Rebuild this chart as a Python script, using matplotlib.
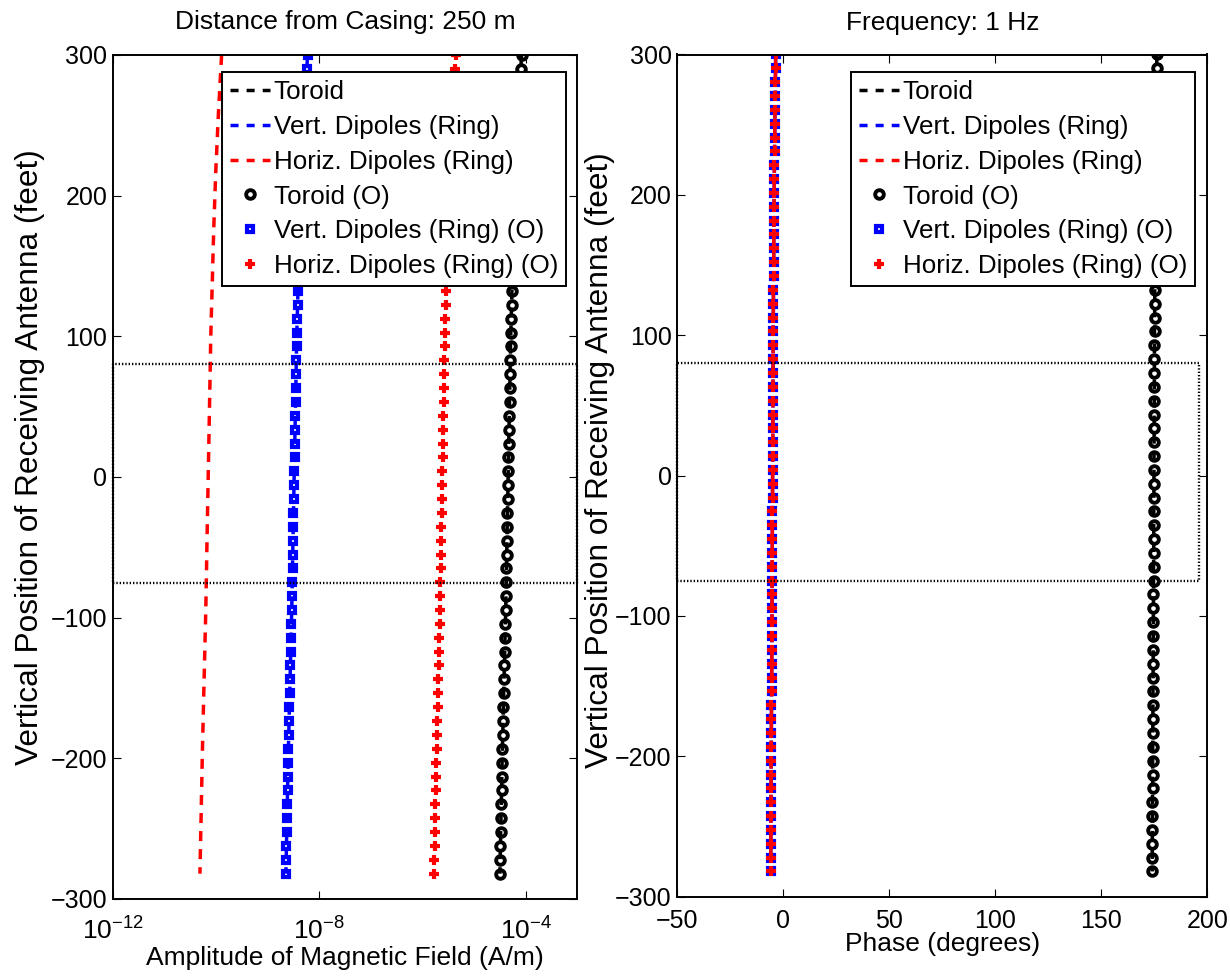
import numpy as np
import matplotlib
matplotlib.use('Agg')
import matplotlib.pyplot as plt
from matplotlib.lines import Line2D

plt.rcParams['font.family'] = ['Liberation Sans', 'DejaVu Sans']
plt.rcParams['mathtext.fontset'] = 'custom'
plt.rcParams['mathtext.rm'] = 'Liberation Sans'
plt.rcParams['mathtext.it'] = 'Liberation Sans:italic'
plt.rcParams['mathtext.default'] = 'regular'
plt.rcParams['lines.scale_dashes'] = False

# ---------------- data ----------------
depth_ft = [300.0, 290.1, 280.3, 270.4, 260.5, 250.7, 240.8, 231.0, 221.1, 211.2,
            201.4, 191.5, 181.6, 171.8, 161.9, 152.0, 142.2, 132.3, 122.4, 112.6,
            102.7, 92.9, 83.0, 73.1, 63.3, 53.4, 43.5, 33.7, 23.8, 13.9,
            4.1, -5.8, -15.7, -25.5, -35.4, -45.3, -55.1, -65.0, -74.9, -84.7,
            -94.6, -104.4, -114.3, -124.2, -134.0, -143.9, -153.8, -163.6, -173.5, -183.4,
            -193.2, -203.1, -213.0, -222.8, -232.7, -242.5, -252.4, -262.3, -272.1, -282.0]

# log10 of amplitude (A/m)
log_amp_toroid = [-4.080, -4.095, -4.110, -4.124, -4.139, -4.152, -4.164, -4.176, -4.189, -4.199,
                  -4.209, -4.218, -4.228, -4.236, -4.244, -4.251, -4.258, -4.266, -4.273, -4.281,
                  -4.288, -4.294, -4.298, -4.303, -4.308, -4.313, -4.318, -4.323, -4.328, -4.333,
                  -4.338, -4.343, -4.348, -4.353, -4.358, -4.363, -4.368, -4.372, -4.377, -4.382,
                  -4.387, -4.393, -4.400, -4.406, -4.413, -4.419, -4.426, -4.432, -4.438, -4.445,
                  -4.451, -4.457, -4.462, -4.468, -4.473, -4.478, -4.484, -4.489, -4.495, -4.500]
log_amp_vert = [-8.225, -8.240, -8.255, -8.269, -8.284, -8.297, -8.309, -8.321, -8.334, -8.344,
                -8.354, -8.363, -8.373, -8.381, -8.389, -8.396, -8.403, -8.411, -8.418, -8.426,
                -8.433, -8.439, -8.443, -8.448, -8.453, -8.458, -8.463, -8.468, -8.473, -8.478,
                -8.483, -8.488, -8.493, -8.498, -8.503, -8.508, -8.513, -8.517, -8.522, -8.527,
                -8.532, -8.538, -8.545, -8.551, -8.558, -8.564, -8.571, -8.577, -8.583, -8.590,
                -8.596, -8.602, -8.607, -8.613, -8.618, -8.623, -8.629, -8.634, -8.640, -8.645]
log_amp_horiz_O = [-5.355, -5.370, -5.385, -5.399, -5.414, -5.427, -5.439, -5.451, -5.464, -5.474,
                   -5.484, -5.493, -5.503, -5.511, -5.519, -5.526, -5.533, -5.541, -5.548, -5.556,
                   -5.563, -5.569, -5.573, -5.578, -5.583, -5.588, -5.593, -5.598, -5.603, -5.608,
                   -5.613, -5.618, -5.623, -5.628, -5.633, -5.638, -5.643, -5.647, -5.652, -5.657,
                   -5.662, -5.668, -5.675, -5.681, -5.688, -5.694, -5.701, -5.707, -5.713, -5.720,
                   -5.726, -5.732, -5.737, -5.743, -5.748, -5.753, -5.759, -5.764, -5.770, -5.775]
log_amp_horiz = [-9.890, -9.905, -9.920, -9.934, -9.949, -9.962, -9.974, -9.986, -9.999, -10.009,
                 -10.019, -10.028, -10.038, -10.046, -10.054, -10.061, -10.068, -10.076, -10.083, -10.091,
                 -10.098, -10.104, -10.108, -10.113, -10.118, -10.123, -10.128, -10.133, -10.138, -10.143,
                 -10.148, -10.153, -10.158, -10.163, -10.168, -10.173, -10.178, -10.182, -10.187, -10.192,
                 -10.197, -10.203, -10.210, -10.216, -10.223, -10.229, -10.236, -10.242, -10.248, -10.255,
                 -10.261, -10.267, -10.272, -10.278, -10.283, -10.288, -10.294, -10.299, -10.305, -10.310]

# phase (degrees)
phase_toroid = [176.20, 176.12, 176.04, 175.97, 175.89, 175.82, 175.76, 175.70, 175.63, 175.58,
                175.52, 175.48, 175.42, 175.38, 175.34, 175.30, 175.27, 175.23, 175.19, 175.15,
                175.11, 175.08, 175.06, 175.03, 175.01, 174.98, 174.95, 174.93, 174.90, 174.87,
                174.85, 174.82, 174.80, 174.77, 174.74, 174.72, 174.69, 174.67, 174.64, 174.62,
                174.59, 174.56, 174.52, 174.49, 174.46, 174.42, 174.39, 174.36, 174.32, 174.29,
                174.26, 174.23, 174.20, 174.17, 174.14, 174.12, 174.08, 174.06, 174.03, 174.00]
phase_vert = [-3.58, -3.66, -3.75, -3.83, -3.91, -3.99, -4.05, -4.12, -4.20, -4.25,
              -4.31, -4.36, -4.42, -4.46, -4.51, -4.54, -4.58, -4.63, -4.67, -4.71,
              -4.75, -4.79, -4.81, -4.84, -4.87, -4.89, -4.92, -4.95, -4.98, -5.01,
              -5.04, -5.06, -5.09, -5.12, -5.15, -5.18, -5.21, -5.23, -5.26, -5.28,
              -5.31, -5.35, -5.39, -5.42, -5.46, -5.49, -5.53, -5.57, -5.60, -5.64,
              -5.67, -5.71, -5.74, -5.77, -5.80, -5.83, -5.86, -5.89, -5.92, -5.95]
phase_horiz = [-3.58, -3.66, -3.75, -3.83, -3.91, -3.99, -4.05, -4.12, -4.20, -4.25,
               -4.31, -4.36, -4.42, -4.46, -4.51, -4.54, -4.58, -4.63, -4.67, -4.71,
               -4.75, -4.79, -4.81, -4.84, -4.87, -4.89, -4.92, -4.95, -4.98, -5.01,
               -5.04, -5.06, -5.09, -5.12, -5.15, -5.18, -5.21, -5.23, -5.26, -5.28,
               -5.31, -5.35, -5.39, -5.42, -5.46, -5.49, -5.53, -5.57, -5.60, -5.64,
               -5.67, -5.71, -5.74, -5.77, -5.80, -5.83, -5.86, -5.89, -5.92, -5.95]

legend_labels = ['Toroid', 'Vert. Dipoles (Ring)', 'Horiz. Dipoles (Ring)',
                 'Toroid (O)', 'Vert. Dipoles (Ring) (O)', 'Horiz. Dipoles (Ring) (O)']
box_depth = [-75, 80]

y_ticks = [-300, -200, -100, 0, 100, 200, 300]
amp_ticks = [1e-12, 1e-8, 1e-4]
amp_ticklabels = [r'$10^{-12}$', r'$10^{-8}$', r'$10^{-4}$']
phase_ticks = [-50, 0, 50, 100, 150, 200]

# ---------------- styles ----------------
FS = 19
LEG_FS = 18.7
DASH = (0, (7.2, 5.8))
LW = 2.5
circ = dict(marker='o', ms=6.2, mew=2.8, mfc='none', mec='k', ls='none')
sq = dict(marker='s', ms=4.6, mew=3.0, mfc='none', mec='b', ls='none')
plus = dict(marker='+', ms=7, mew=3.0, mec='r', ls='none')
BOXLS = (0, (1, 1.4))

W, H = 1230, 977
fig = plt.figure(figsize=(W / 100, H / 100), dpi=100)
ax1 = fig.add_axes([112.7 / W, (H - 899) / H, 464.6 / W, 844 / H])
ax2 = fig.add_axes([677.3 / W, (H - 896.7) / H, 530 / W, 842.2 / H])

d = np.array(depth_ft)

# left panel: amplitude
ax1.plot(10 ** np.array(log_amp_toroid), d, color='k', ls=DASH, lw=LW)
ax1.plot(10 ** np.array(log_amp_vert), d, color='b', ls=DASH, lw=LW)
ax1.plot(10 ** np.array(log_amp_horiz), d, color='r', ls=DASH, lw=LW)
ax1.plot(10 ** np.array(log_amp_toroid), d, **circ)
ax1.plot(10 ** np.array(log_amp_vert), d, **sq)
ax1.plot(10 ** np.array(log_amp_horiz_O), d, **plus)
ax1.set_xscale('log')
ax1.set_xlim(1e-12, 1e-3)
ax1.set_ylim(-300, 300)
ax1.set_xticks(amp_ticks)
ax1.xaxis.set_minor_locator(matplotlib.ticker.NullLocator())

# right panel: phase
ax2.plot(phase_toroid, d, color='k', ls=DASH, lw=LW)
ax2.plot(phase_vert, d, color='b', ls=DASH, lw=LW)
ax2.plot(phase_horiz, d, color='r', ls=DASH, lw=LW)
ax2.plot(phase_toroid, d, **circ)
ax2.plot(phase_vert, d, **sq)
ax2.plot(phase_horiz, d, **plus)
ax2.set_xlim(-50, 200)
ax2.set_ylim(-300, 300)
ax2.set_xticks(phase_ticks)

for ax in (ax1, ax2):
    ax.set_yticks(y_ticks)
    ax.tick_params(direction='in', length=5.5, width=0.8, top=True, right=True,
                   labelsize=18)
    ax.tick_params(axis='y', pad=4)
    for s in ax.spines.values():
        s.set_linewidth(1.4)
    ax.set_ylabel('Vertical Position of Receiving Antenna (feet)', fontsize=22.8)
    ax.yaxis.label.set_va('center')

ax1.tick_params(axis='x', pad=13)
ax2.tick_params(axis='x', pad=8.5)
ax1.set_xticklabels(amp_ticklabels, fontsize=19)

# dotted box
ax1.plot([1e-12, 1e-3, 1e-3, 1e-12, 1e-12],
         [box_depth[0], box_depth[0], box_depth[1], box_depth[1], box_depth[0]],
         color='k', ls=BOXLS, lw=1.7, zorder=5, clip_on=False)
ax2.plot([-50, 196, 196, -50, -50],
         [box_depth[0], box_depth[0], box_depth[1], box_depth[1], box_depth[0]],
         color='k', ls=BOXLS, lw=1.7, zorder=5, clip_on=False)

ax1.set_xlabel('Amplitude of Magnetic Field (A/m)', fontsize=FS)
ax2.set_xlabel('Phase (degrees)', fontsize=FS)
ax1.xaxis.set_label_coords(0.5, -(958 - 899) / 844)
ax2.xaxis.set_label_coords(0.5, -(944 - 896.7) / 842.2)
ax1.xaxis.label.set_va('center')
ax2.xaxis.label.set_va('center')
ax1.yaxis.set_label_coords((30 - 112.7) / 464.6, 1 - (457 - 55) / 844)
ax2.yaxis.set_label_coords((600 - 677.3) / 530, 1 - (460 - 54.5) / 842.2)

ax1.text(0.5, 1 + (55 - 22) / 844, 'Distance from Casing: 250 m', transform=ax1.transAxes,
         ha='center', va='center', fontsize=FS)
ax2.text(0.5, 1 + (54.5 - 23) / 842.2, 'Frequency: 1 Hz', transform=ax2.transAxes,
         ha='center', va='center', fontsize=FS)

# legends
handles = [Line2D([], [], color='k', ls=(0, (5.8, 5.8)), lw=LW),
           Line2D([], [], color='b', ls=(0, (5.8, 5.8)), lw=LW),
           Line2D([], [], color='r', ls=(0, (5.8, 5.8)), lw=LW),
           Line2D([], [], **circ),
           Line2D([], [], **sq),
           Line2D([], [], **plus)]
for ax, bx, by in ((ax1, (566 - 112.7) / 464.6, 1 - (72 - 55) / 844),
                   (ax2, (1195 - 677.3) / 530, 1 - (72 - 54.5) / 842.2)):
    leg = ax.legend(handles, legend_labels, loc='upper right', bbox_to_anchor=(bx, by),
                    borderaxespad=0, fontsize=LEG_FS, frameon=True, fancybox=False,
                    framealpha=1, edgecolor='k', handlelength=1.55, handletextpad=0.15,
                    borderpad=0.3, labelspacing=0.42, numpoints=1)
    leg.get_frame().set_linewidth(1.4)
    leg.set_zorder(10)

fig.savefig('out.png', dpi=100)
